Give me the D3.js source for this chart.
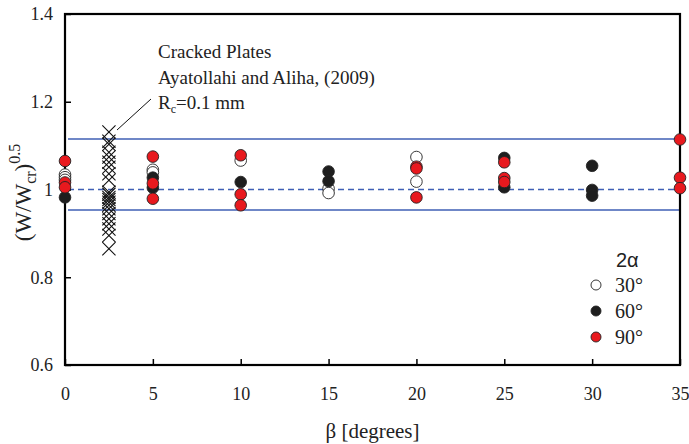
<!DOCTYPE html>
<html>
<head>
<meta charset="utf-8">
<script src="https://cdn.jsdelivr.net/npm/d3@7"></script>
<style>
    body { margin: 0; background: #fff; }
</style>
</head>
<body>
<div id="chart"></div>
<script>
// beta positions (degrees) and normalised values
const beta30 = [0, 0, 0, 5, 5, 10, 15, 15, 20, 20];
const val30 = [1.034, 1.028, 1.022, 1.045, 1.039, 1.066, 1.002, 0.992, 1.074, 1.018];

const beta60 = [0, 5, 5, 10, 15, 15, 25, 25, 30, 30, 30];
const val60 = [0.982, 1.027, 1.004, 1.017, 1.041, 1.019, 1.072, 1.005, 1.054, 0.999, 0.986];

const beta90 = [0, 0, 0, 5, 5, 5, 10, 10, 10, 20, 20, 20, 25, 25, 25, 35, 35, 35];
const val90 = [1.065, 1.016, 1.005, 1.075, 1.014, 0.979, 1.078, 0.989, 0.964,
    1.052, 1.048, 0.982, 1.062, 1.026, 1.017, 1.114, 1.027, 1.003];

// Ayatollahi and Aliha (2009) cracked plates
const crackBeta = 2.5;
const crackVals = [1.131, 1.110, 1.103, 1.085, 1.074, 1.062, 1.051, 1.036, 1.021,
    0.994, 0.989, 0.982, 0.977, 0.971, 0.964, 0.956, 0.945, 0.933, 0.922, 0.910,
    0.895, 0.865];

const bandUpper = 1.115;
const bandLower = 0.953;
const bandMean = 1.0;

const xTicks = [0, 5, 10, 15, 20, 25, 30, 35];
const yTicks = [0.6, 0.8, 1.0, 1.2, 1.4];

const serif = 'Liberation Serif';
const ink = '#222';

const margin = { top: 14, right: 9, bottom: 79, left: 65 };
const width = 689 - margin.left - margin.right;
const height = 444 - margin.top - margin.bottom;

const svg = d3.select('#chart').append('svg')
    .attr('width', 689)
    .attr('height', 444);

const g = svg.append('g')
    .attr('transform', `translate(${margin.left}, ${margin.top})`);

const x = d3.scaleLinear().domain([0, 35]).range([0, width]);
const y = d3.scaleLinear().domain([0.6, 1.4]).range([height, 0]);

// reference band
const blue = '#3f5fb5';
[bandUpper, bandLower].forEach((v) => {
    g.append('line')
        .attr('x1', x(0) + 3).attr('x2', x(35))
        .attr('y1', y(v)).attr('y2', y(v))
        .attr('stroke', blue).attr('stroke-width', 1.5);
});
g.append('line')
    .attr('x1', x(0) + 3).attr('x2', x(35))
    .attr('y1', y(bandMean)).attr('y2', y(bandMean))
    .attr('stroke', blue).attr('stroke-width', 1.5)
    .attr('stroke-dasharray', '6,4');

// axes: ticks point inward
const xAxis = g.append('g')
    .attr('transform', `translate(0, ${height})`)
    .call(d3.axisBottom(x).tickValues(xTicks).tickSizeInner(-6).tickSizeOuter(0).tickPadding(22));
const yAxis = g.append('g')
    .call(d3.axisLeft(y).tickValues(yTicks).tickSizeInner(-6).tickSizeOuter(0).tickPadding(12)
        .tickFormat((d) => (d === 1 ? '1' : d3.format('.1f')(d))));

[xAxis, yAxis].forEach((a) => {
    a.attr('font-family', serif).attr('font-size', 18);
    a.select('.domain').remove();
    a.selectAll('line').attr('stroke', '#000').attr('stroke-width', 1.5);
    a.selectAll('text').attr('fill', ink);
});

// frame
g.append('rect')
    .attr('x', 0).attr('y', 0)
    .attr('width', width).attr('height', height)
    .attr('fill', 'none')
    .attr('stroke', '#000')
    .attr('stroke-width', 2.2);

// crosses
g.append('g')
    .selectAll('path')
    .data(crackVals)
    .join('path')
    .attr('transform', (d) => `translate(${x(crackBeta)}, ${y(d)})`)
    .attr('d', d3.symbol().type(d3.symbolX).size(115))
    .attr('fill', 'none')
    .attr('stroke', '#111')
    .attr('stroke-width', 1.1);

// circle series
const series = [
    { b: beta30, v: val30, fill: '#ffffff' },
    { b: beta60, v: val60, fill: '#1e1e1e' },
    { b: beta90, v: val90, fill: '#e8191e' },
];
series.forEach((s) => {
    g.append('g')
        .selectAll('circle')
        .data(s.v)
        .join('circle')
        .attr('cx', (_, i) => x(s.b[i]))
        .attr('cy', (d) => y(d))
        .attr('r', 5.8)
        .attr('fill', s.fill)
        .attr('stroke', ink)
        .attr('stroke-width', 0.9);
});

// annotation
const note = svg.append('text')
    .attr('font-family', serif)
    .attr('font-size', 19)
    .attr('fill', ink);
note.append('tspan').attr('x', 158).attr('y', 58).text('Cracked Plates');
note.append('tspan').attr('x', 158).attr('y', 84).text('Ayatollahi and Aliha, (2009)');
const rc = note.append('tspan').attr('x', 158).attr('y', 109);
rc.append('tspan').text('R');
rc.append('tspan').attr('font-size', 12).attr('dy', 4).text('c');
rc.append('tspan').attr('dy', -4).text('=0.1 mm');

svg.append('line')
    .attr('x1', 151).attr('y1', 99)
    .attr('x2', 117).attr('y2', 130)
    .attr('stroke', '#111')
    .attr('stroke-width', 1);

// legend
const legend = svg.append('g');
legend.append('text')
    .attr('x', 616).attr('y', 267)
    .attr('font-family', 'Liberation Sans')
    .attr('font-size', 20)
    .attr('fill', ink)
    .text('2α');
const legendLabels = ['30°', '60°', '90°'];
legendLabels.forEach((t, i) => {
    const cy = 285 + i * 26;
    legend.append('circle')
        .attr('cx', 596).attr('cy', cy)
        .attr('r', 5)
        .attr('fill', series[i].fill)
        .attr('stroke', ink)
        .attr('stroke-width', 0.9);
    legend.append('text')
        .attr('x', 615).attr('y', cy + 7)
        .attr('font-family', serif)
        .attr('font-size', 20)
        .attr('fill', ink)
        .text(t);
});

// axis titles
svg.append('text')
    .attr('x', margin.left + width / 2)
    .attr('y', 438)
    .attr('text-anchor', 'middle')
    .attr('font-family', serif)
    .attr('font-size', 21)
    .attr('fill', ink)
    .text('β [degrees]');

const yTitle = svg.append('text')
    .attr('transform', `translate(31, ${margin.top + height / 2 + 3}) rotate(-90)`)
    .attr('text-anchor', 'middle')
    .attr('font-family', serif)
    .attr('font-size', 23)
    .attr('fill', ink);
yTitle.append('tspan').text('(W/W');
yTitle.append('tspan').attr('font-size', 16).attr('dy', 5).text('cr');
yTitle.append('tspan').attr('dy', -5).text(')');
yTitle.append('tspan').attr('font-size', 16).attr('dy', -11).text('0.5');
</script>
</body>
</html>
